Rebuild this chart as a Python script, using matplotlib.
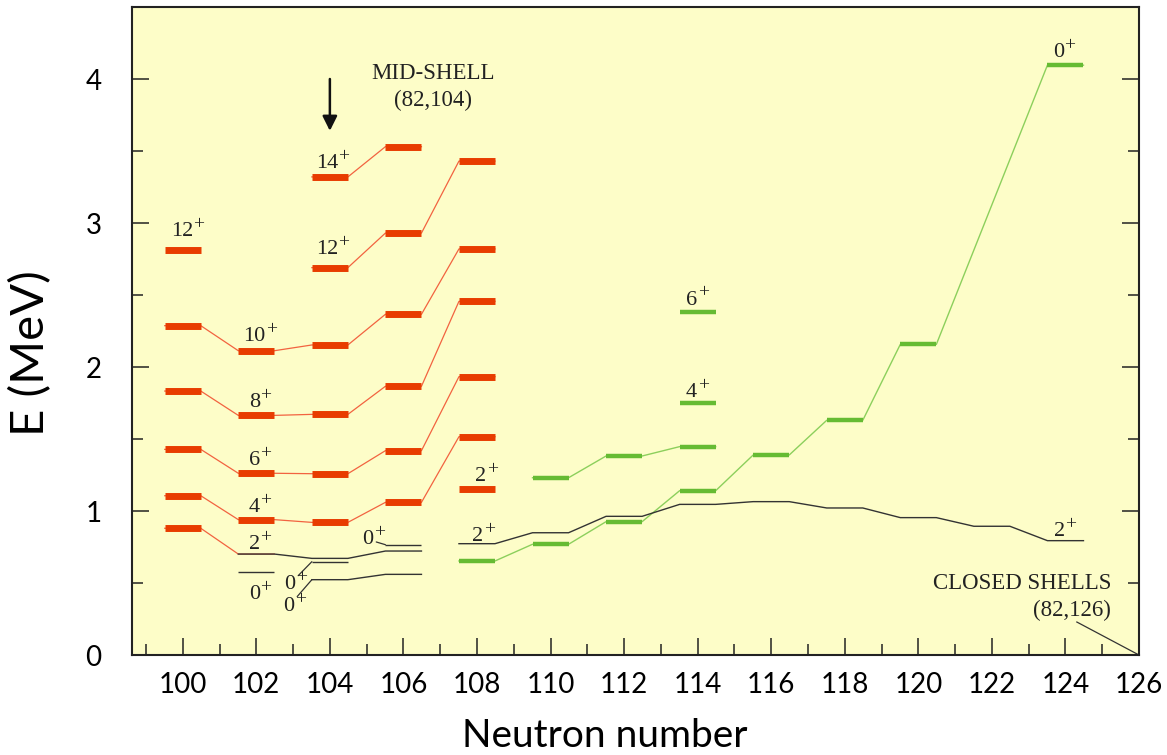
import numpy as np
import matplotlib
matplotlib.use('Agg')
from matplotlib import pyplot as plt
from matplotlib.ticker import MultipleLocator

plt.rcParams['font.family'] = ['Lato', 'DejaVu Sans']

# Level energies in MeV
# red bands (yrast 4+ ... 14+) for N = 100..108
N_RED = [100, 102, 104, 106, 108]
E_RED_4 = [1.106, 0.940, 0.921, 1.060, 1.516]
E_RED_6 = [1.428, 1.262, 1.259, 1.419, 1.933]
E_RED_8 = [1.833, 1.664, 1.671, 1.866, 2.456]
E_RED_10 = [2.287, 2.113, 2.153, 2.366, 2.820]
N_RED_12 = [104, 106, 108]
E_RED_12 = [2.690, 2.930, 3.430]
N_RED_14 = [104, 106]
E_RED_14 = [3.320, 3.530]
# single red levels
N_RED_SINGLE = [100, 108]
E_RED_SINGLE = [2.810, 1.153]
# first 2+ at N=100 (red), continued as thin black line
N_RED_2 = [100, 102]
E_RED_2 = [0.880, 0.701]

# thin black lines: 2+ states and the 0+ intruders
N_BLACK_2A = [102, 104, 106]
E_BLACK_2A = [0.701, 0.671, 0.722]
N_BLACK_2B = [108, 110, 112, 114, 116, 118, 120, 122, 124]
E_BLACK_2B = [0.773, 0.849, 0.963, 1.046, 1.065, 1.021, 0.954, 0.894, 0.794]
N_BLACK_0 = [104, 106]
E_BLACK_0 = [0.523, 0.560]
N_BLACK_SINGLE = [102, 104, 106]
E_BLACK_SINGLE = [0.578, 0.648, 0.766]

# green bands
N_GREEN_0 = [108, 110, 112, 114, 116, 118, 120, 124]
E_GREEN_0 = [0.653, 0.769, 0.926, 1.141, 1.389, 1.630, 2.157, 4.096]
N_GREEN_2 = [110, 112, 114]
E_GREEN_2 = [1.231, 1.382, 1.447]
N_GREEN_SINGLE = [114, 114]
E_GREEN_SINGLE = [1.750, 2.385]

# spin labels: text, N, E of the level they belong to
SPIN_TEXT = ['12', '14', '12', '10', '8', '6', '4', '2', '2', '2', '6', '4', '0', '2', '0']
SPIN_N = [100, 104, 104, 102, 102, 102, 102, 102, 108, 108, 114, 114, 124, 124, 102]
SPIN_E = [2.810, 3.320, 2.690, 2.113, 1.664, 1.262, 0.940, 0.701, 1.153, 0.773,
          2.385, 1.750, 4.096, 0.794, 0.578]
# 0+ labels joined to their level by a short line
ZERO_N = [104, 104, 106]
ZERO_E = [0.648, 0.523, 0.766]

MID_SHELL_N = 104
CLOSED_SHELL_N = 126

BG = '#fdfdc8'
RED_BAR, RED_LINE = '#e83c00', '#f26340'
GREEN_BAR, GREEN_LINE = '#66bb33', '#8ccf5c'
DARK = '#333333'
TXT = '#222222'
HW = 0.49  # half width of a level bar (neutrons)
SERIF = 'Liberation Serif'
DIGIT_PX = 11.1  # width of one serif digit at 16 pt, in pixels


def band(ax, n, e, color, lw, bar_color=None, bar_lw=None, z=2):
    xs, ys = [], []
    for ni, ei in zip(n, e):
        xs += [ni - HW, ni + HW]
        ys += [ei, ei]
    ax.plot(xs, ys, color=color, lw=lw, zorder=z)
    if bar_color is not None:
        bars(ax, n, e, bar_color, bar_lw)


def bars(ax, n, e, color, lw):
    n = np.asarray(n, dtype=float)
    ax.hlines(e, n - HW, n + HW, colors=color, lw=lw, capstyle='butt', zorder=4)


def spin(ax, t, xy, dx, dy, connect=False):
    # digits plus a raised, fairly large "+" like the original drawing
    wd = DIGIT_PX * len(t)
    left = dx - (wd + 10) / 2
    kw = dict(textcoords='offset pixels', va='baseline', family=SERIF,
              color=TXT, zorder=5)
    if connect:
        kw['arrowprops'] = dict(arrowstyle='-', color=DARK, lw=0.9,
                                shrinkA=0, shrinkB=0)
    ax.annotate(t, xy=xy, xytext=(left + wd / 2, dy), ha='center', fontsize=16, **kw)
    kw.pop('arrowprops', None)
    ax.annotate('+', xy=xy, xytext=(left + wd + 0.5, dy + 7), ha='left',
                fontsize=14, **kw)


fig = plt.figure(figsize=(11.67, 7.55), dpi=100)
ax = fig.add_axes([132 / 1167, 100 / 755, 1007 / 1167, 648 / 755])
ax.set_facecolor(BG)
ax.set_xlim(98.62, 126.0)
ax.set_ylim(0, 4.5)

# red bands
band(ax, N_RED_2, E_RED_2, RED_LINE, 0.9)
bars(ax, N_RED_2[:1], E_RED_2[:1], RED_BAR, 5)
for e in [E_RED_4, E_RED_6, E_RED_8, E_RED_10]:
    band(ax, N_RED, e, RED_LINE, 0.9, RED_BAR, 5)
band(ax, N_RED_12, E_RED_12, RED_LINE, 0.9, RED_BAR, 5)
band(ax, N_RED_14, E_RED_14, RED_LINE, 0.9, RED_BAR, 5)
bars(ax, N_RED_SINGLE, E_RED_SINGLE, RED_BAR, 5)

# black lines
band(ax, N_BLACK_2A, E_BLACK_2A, DARK, 1.0, z=3)
band(ax, N_BLACK_2B, E_BLACK_2B, DARK, 1.0, z=3)
band(ax, N_BLACK_0, E_BLACK_0, DARK, 1.0, z=3)
bars(ax, N_BLACK_SINGLE, E_BLACK_SINGLE, DARK, 1.0)

# green bands
band(ax, N_GREEN_0, E_GREEN_0, GREEN_LINE, 1.0, GREEN_BAR, 3.2)
band(ax, N_GREEN_2, E_GREEN_2, GREEN_LINE, 1.0, GREEN_BAR, 3.2)
bars(ax, N_GREEN_SINGLE, E_GREEN_SINGLE, GREEN_BAR, 3.2)

# spin labels (offsets in pixels from the bar centre)
offsets = [(4, 14), (2, 9), (2, 14), (3, 10), (3, 8), (3, 8.5), (3, 7.5), (3, 5),
           (8.5, 7.5), (6, 3), (-1, 7), (-1, 6), (-2, 8), (-1, 5), (3, -27)]
for t, n, e, (dx, dy) in zip(SPIN_TEXT, SPIN_N, SPIN_E, offsets):
    spin(ax, t, (n, e), dx, dy)

zero_offsets = [(-17, -27), (-18, -31), (-12.5, 0.7)]
for n, e, (dx, dy) in zip(ZERO_N, ZERO_E, zero_offsets):
    spin(ax, '0', (n - HW, e), dx, dy, connect=True)

# mid-shell marker
ax.text(MID_SHELL_N + 2.8, 4.0, 'MID-SHELL', ha='center', va='baseline',
        fontsize=16.5, family=SERIF, color=TXT)
ax.text(MID_SHELL_N + 2.8, 3.81, '(82,104)', ha='center', va='baseline',
        fontsize=16.5, family=SERIF, color=TXT)
ax.annotate('', xy=(MID_SHELL_N, 3.64), xytext=(MID_SHELL_N, 4.0),
            arrowprops=dict(arrowstyle='-|>', color='#111111', lw=1.8,
                            mutation_scale=22, shrinkA=0, shrinkB=0))

# closed shells
ax.text(CLOSED_SHELL_N - 0.76, 0.458, 'CLOSED SHELLS', ha='right', va='baseline',
        fontsize=16.5, family=SERIF, color=TXT)
ax.text(CLOSED_SHELL_N - 0.76, 0.271, '(82,126)', ha='right', va='baseline',
        fontsize=16.5, family=SERIF, color=TXT)
ax.plot([CLOSED_SHELL_N - 1.69, CLOSED_SHELL_N], [0.229, 0.0], color=DARK, lw=0.9)

# axes styling
ax.xaxis.set_major_locator(MultipleLocator(2))
ax.xaxis.set_minor_locator(MultipleLocator(1))
ax.yaxis.set_major_locator(MultipleLocator(1))
ax.yaxis.set_minor_locator(MultipleLocator(0.5))
ax.tick_params(which='both', direction='in', top=False, right=True,
               color=TXT, width=1.1)
ax.tick_params(which='major', length=12.5)
ax.tick_params(which='minor', length=8)
ax.tick_params(axis='x', which='major', pad=12, labelsize=20)
ax.tick_params(axis='y', which='major', pad=22, labelsize=20)
for s in ax.spines.values():
    s.set_color(TXT)
    s.set_linewidth(1.5)

ax.set_xlabel('Neutron number', fontsize=28)
ax.xaxis.label.set_va('baseline')
ax.xaxis.set_label_coords((605 - 132) / 1007, (655 - 747) / 648)
ax.set_ylabel('E (MeV)', fontsize=34)
ax.yaxis.label.set(rotation_mode='default', va='center', ha='center')
ax.yaxis.set_label_coords((31 - 132) / 1007, (655 - 353) / 648)

fig.savefig('out.png', dpi=100)
